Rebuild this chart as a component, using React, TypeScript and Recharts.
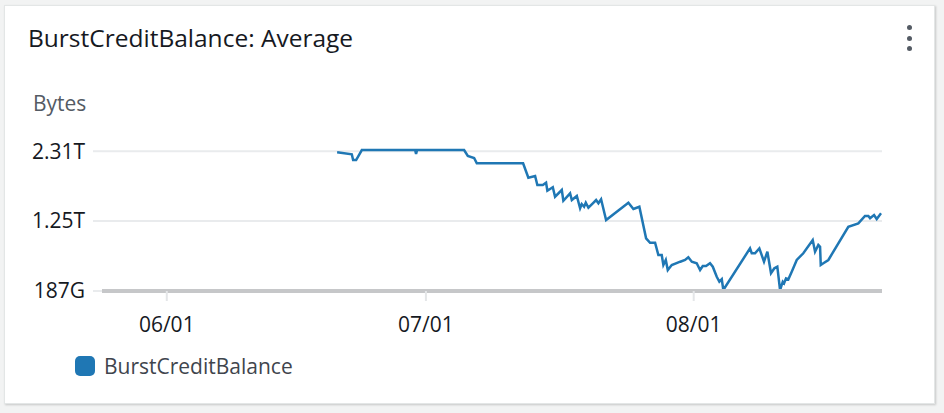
import React from 'react';
import { LineChart, Line, XAxis, YAxis, ReferenceLine } from 'recharts';

// days since 06/01
const days = [
  19.72, 21.42, 21.57, 21.92, 22.58, 28.75, 28.86, 28.98, 34.42, 34.85, 35.58, 35.89,
  41.25, 41.86, 42.64, 42.9, 43.53, 43.91, 44.06, 44.69, 44.95, 45.73, 45.91, 46.69,
  46.89, 47.47, 47.85, 48.04, 48.31, 48.51, 48.81, 49.32, 49.7, 49.97, 50.28, 50.86,
  53.44, 54.02, 54.71, 55.49, 55.95, 56.53, 56.91, 57.3, 57.49, 57.77, 58.0, 58.46,
  59.44, 60.0, 60.38, 60.78, 61.35, 61.74, 62.05, 62.43, 62.89, 63.21, 63.67, 63.97,
  64.25, 64.43, 67.52, 67.72, 68.1, 68.6, 69.14, 69.53, 69.95, 70.34, 70.68, 71.0,
  71.31, 71.46, 71.69, 71.96, 72.35, 72.93, 73.69, 74.78, 75.05, 75.43, 75.63, 75.71,
  76.01, 76.59, 78.9, 80.06, 80.83, 81.22, 81.42, 81.88, 82.19, 82.69,
];

// BurstCreditBalance average, in GB
const balanceGB = [
  2293, 2263, 2176, 2176, 2328, 2328, 2267, 2328, 2328, 2237, 2207, 2126,
  2126, 1908, 1933, 1797, 1797, 1832, 1710, 1762, 1619, 1721, 1558, 1671,
  1569, 1630, 1443, 1508, 1467, 1528, 1452, 1519, 1569, 1519, 1580, 1265,
  1528, 1432, 1467, 987, 920, 920, 734, 734, 582, 658, 506, 582,
  632, 658, 699, 632, 608, 506, 567, 567, 608, 556, 404, 328,
  365, 202, 835, 760, 760, 835, 632, 784, 456, 532, 556, 202,
  328, 304, 380, 365, 480, 658, 760, 961, 784, 886, 860, 582,
  608, 658, 1163, 1215, 1326, 1326, 1291, 1341, 1280, 1367,
];

const xTicks = [0, 30, 61];
const xTickLabels = ['06/01', '07/01', '08/01'];
const yTicks = [187, 1250, 2310];
const yTickLabels = ['187G', '1.25T', '2.31T'];

const data = days.map((d, i) => ({ day: d, value: balanceGB[i] }));

const FONT = '"Open Sans", sans-serif';
const BLUE = '#1f77b4';

export default function App() {
  const tickStyle = { fill: '#16191f', fontSize: 21, fontFamily: FONT };
  return (
    <div style={{ position: 'fixed', left: 0, top: 0, width: 944, height: 413, background: '#f2f3f3', fontFamily: FONT }}>
      <div
        style={{
          position: 'absolute', left: 4, top: 5, width: 929, height: 397,
          background: '#fff', border: '1px solid #e3e6e6', boxShadow: '1px 1px 2px rgba(0,0,0,0.18)',
        }}
      />
      <div style={{ position: 'absolute', left: 28, top: 22, fontSize: 24.5, lineHeight: '32px', color: '#16191f' }}>
        BurstCreditBalance: Average
      </div>
      {[27, 38, 48].map((y) => (
        <div key={y} style={{ position: 'absolute', left: 907, top: y - 2.5, width: 5, height: 5, borderRadius: 3, background: '#545b64' }} />
      ))}
      <div style={{ position: 'absolute', left: 33, top: 89, fontSize: 21, lineHeight: '28px', color: '#545b64' }}>Bytes</div>

      <div style={{ position: 'absolute', left: 0, top: 0 }}>
        <LineChart width={944} height={413} data={data} margin={{ top: 121, right: 62, bottom: 82, left: 0 }}>
          {yTicks.slice(1).map((t) => (
            <ReferenceLine key={t} y={t} stroke="#e9ebed" strokeWidth={2} />
          ))}
          <XAxis
            dataKey="day"
            type="number"
            domain={[-7.5, 82.8]}
            allowDataOverflow
            ticks={xTicks}
            tickFormatter={(v) => xTickLabels[xTicks.indexOf(v)]}
            height={40}
            axisLine={{ stroke: '#c6c7c9', strokeWidth: 4 }}
            tickLine={{ stroke: '#e4e6e8', strokeWidth: 2 }}
            tickSize={10}
            tickMargin={16}
            tick={tickStyle}
          />
          <YAxis
            type="number"
            domain={[187, 2769]}
            allowDataOverflow
            ticks={yTicks}
            tickFormatter={(v) => yTickLabels[yTicks.indexOf(v)]}
            width={102}
            axisLine={false}
            tickLine={{ stroke: '#e9ebed', strokeWidth: 2 }}
            tickSize={9}
            tickMargin={8}
            tick={tickStyle}
          />
          <Line
            type="linear"
            dataKey="value"
            stroke={BLUE}
            strokeWidth={2.5}
            dot={false}
            isAnimationActive={false}
          />
        </LineChart>
      </div>

      <div style={{ position: 'absolute', left: 75, top: 355, display: 'flex', alignItems: 'center' }}>
        <div style={{ width: 20, height: 20, borderRadius: 5, background: BLUE }} />
        <span style={{ marginLeft: 9, fontSize: 21, lineHeight: '22px', color: '#3f454d' }}>BurstCreditBalance</span>
      </div>
    </div>
  );
}
